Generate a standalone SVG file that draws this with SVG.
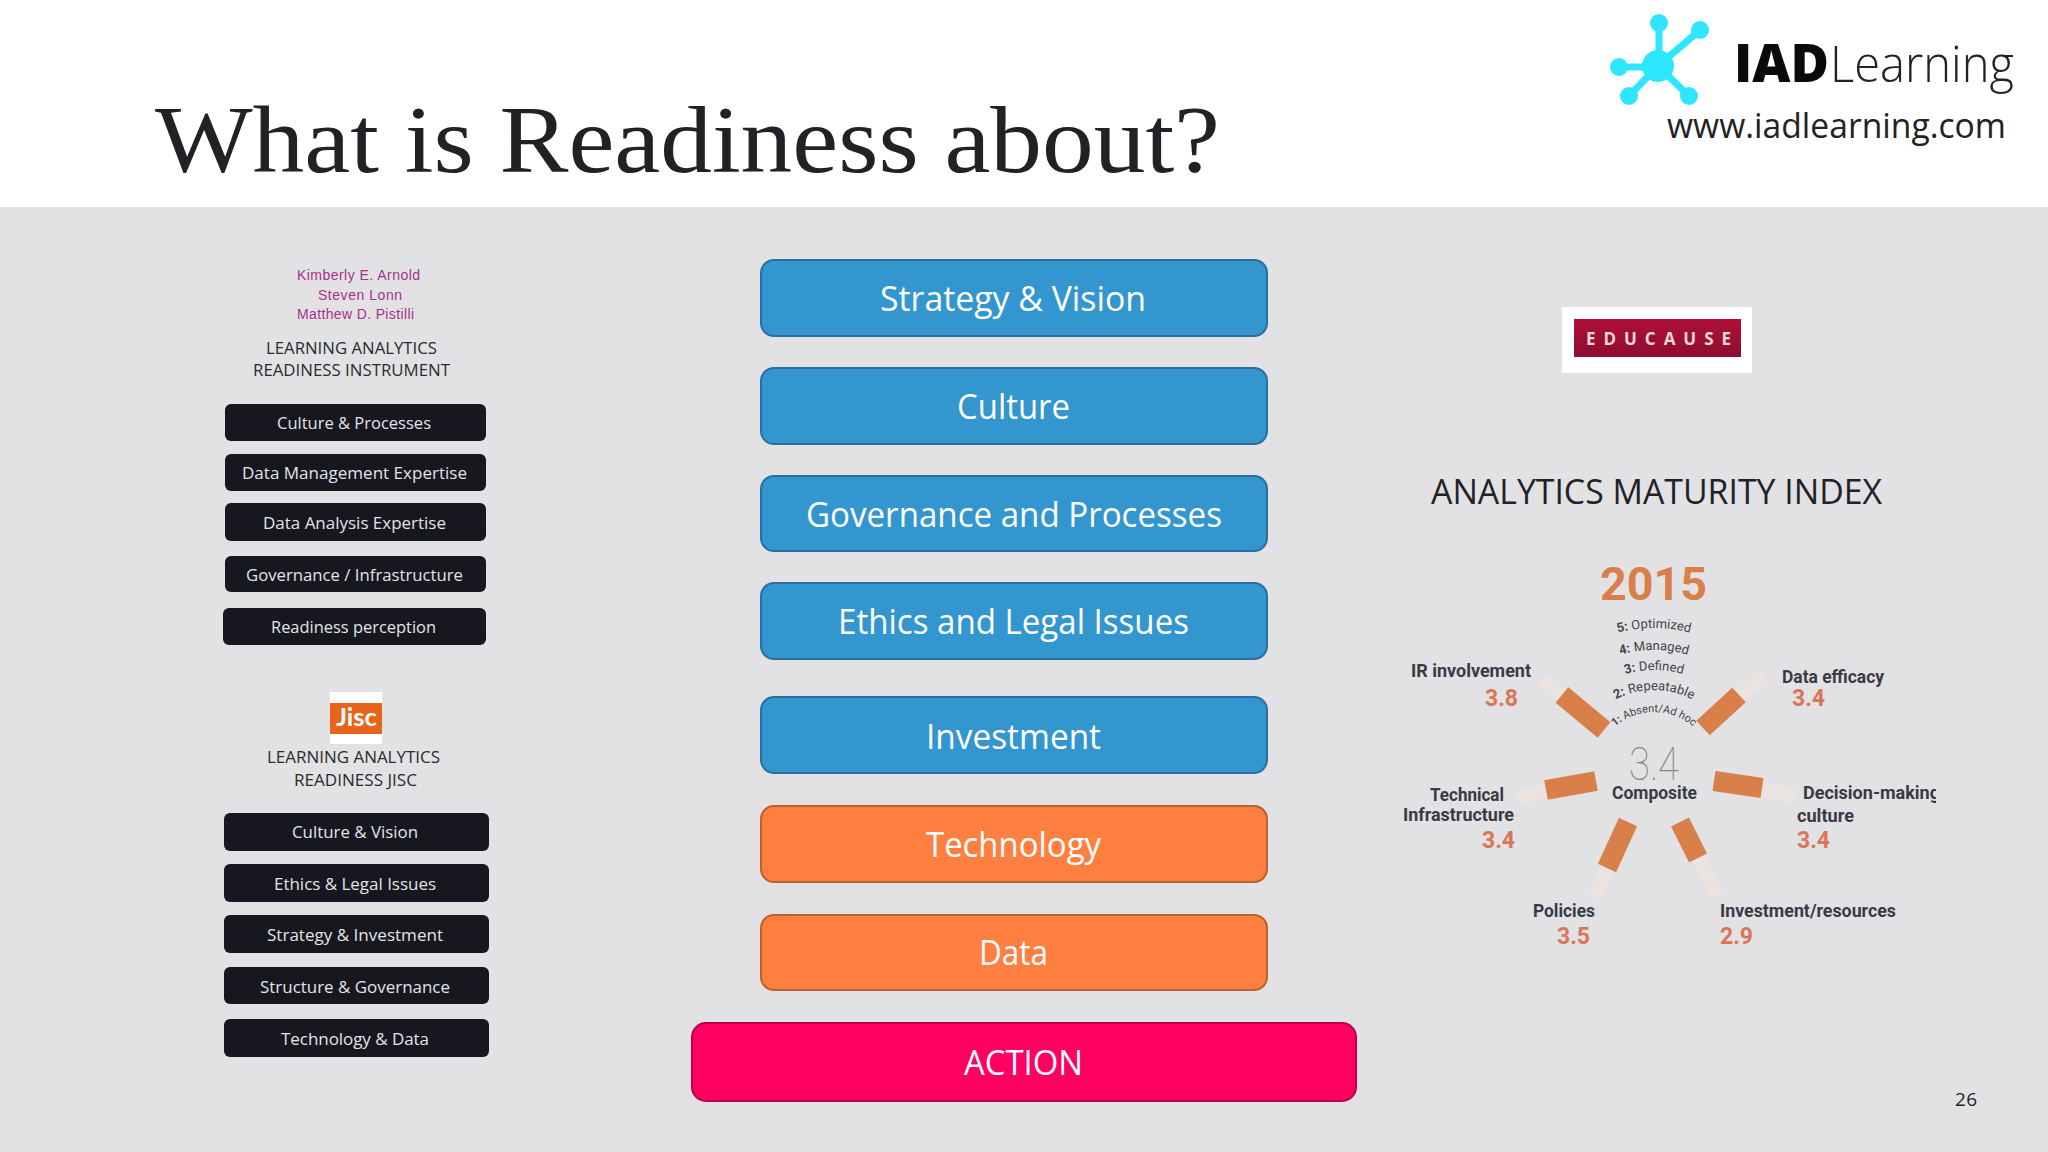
<svg xmlns="http://www.w3.org/2000/svg" width="2048" height="1152" viewBox="0 0 2048 1152">
<style>
.dk{fill:#16171f}
.dt{font:17px "Open Sans",sans-serif;fill:#e4e4e6}
.hd{font:17px "Open Sans",sans-serif;fill:#2b2b2f}
.au{font:14px "Liberation Sans",sans-serif;fill:#a8308a}
.bl{fill:#3396cf;stroke:#2a6f9e;stroke-width:2}
.or{fill:#ff7f41;stroke:#b8632f;stroke-width:2}
.pk{fill:#ff0062;stroke:#b8004a;stroke-width:2}
.mt{font:35px "Open Sans",sans-serif;fill:#fff}
.lb{font:bold 18px Roboto,sans-serif;fill:#3a3a44}
.nm{font:bold 23px Roboto,sans-serif;fill:#dc7458}
.lv{font:13px Roboto,sans-serif;fill:#44444c}
.lv1{font:11px Roboto,sans-serif;fill:#44444c}
.bar{stroke:#d9804a;stroke-width:20;fill:none}
.ext{stroke:#ebe3df;stroke-width:14;fill:none}
.lg{fill:#2ee6ff}
.lgl{stroke:#2ee6ff;stroke-width:7;fill:none}
</style>
<defs>
<linearGradient id="redg" x1="0" y1="0" x2="0" y2="1"><stop offset="0" stop-color="#b01038"/><stop offset="1" stop-color="#8c0d30"/></linearGradient>
<clipPath id="clipd"><rect x="1780" y="770" width="156" height="70"/></clipPath>
<path id="a5" d="M1510 772A144 144 0 0 1 1798 772"/>
<path id="a4" d="M1532 772A122 122 0 0 1 1776 772"/>
<path id="a3" d="M1552 772A102 102 0 0 1 1756 772"/>
<path id="a2" d="M1572 772A82 82 0 0 1 1736 772"/>
<path id="a1" d="M1594 772A60 60 0 0 1 1714 772"/>
</defs>
<rect width="2048" height="1152" fill="#e2e2e4"/>
<rect width="2048" height="207" fill="#fff"/>
<text id="title" x="155" y="172" font-family="Liberation Serif,serif" font-size="96" fill="#222226" textLength="1065" lengthAdjust="spacingAndGlyphs">What is Readiness about?</text>
<g id="logo">
<path class="lgl" d="M1659 23V66M1700 30L1658 66M1619 67H1658M1629 96L1658 66M1689 96L1658 66"/>
<circle class="lg" cx="1658" cy="66" r="16"/><circle class="lg" cx="1659" cy="23" r="9"/><circle class="lg" cx="1700" cy="30" r="9"/><circle class="lg" cx="1619" cy="67" r="9"/><circle class="lg" cx="1629" cy="96" r="9"/><circle class="lg" cx="1689" cy="96" r="9"/>
<text x="1734" y="82" font-family="Open Sans,sans-serif" font-weight="800" font-size="53" fill="#0a0a0a" textLength="95" lengthAdjust="spacingAndGlyphs">IAD</text>
<text x="1830" y="82" font-family="Open Sans,sans-serif" font-weight="300" font-size="50" fill="#222" textLength="184" lengthAdjust="spacingAndGlyphs">Learning</text>
<text x="1667" y="138" font-family="Open Sans,sans-serif" font-size="35" fill="#222" textLength="339" lengthAdjust="spacingAndGlyphs">www.iadlearning.com</text>
</g>
<g id="authors">
<text class="au" x="297" y="280" textLength="123" lengthAdjust="spacing">Kimberly E. Arnold</text>
<text class="au" x="318" y="300" textLength="84" lengthAdjust="spacing">Steven Lonn</text>
<text class="au" x="297" y="319" textLength="117" lengthAdjust="spacing">Matthew D. Pistilli</text>
</g>
<g id="instrument-heading">
<text class="hd" x="266" y="354" textLength="171" lengthAdjust="spacingAndGlyphs">LEARNING ANALYTICS</text>
<text class="hd" x="253" y="376" textLength="197" lengthAdjust="spacingAndGlyphs">READINESS INSTRUMENT</text>
</g>
<g id="i1"><rect class="dk" x="225" y="404" width="261" height="37" rx="6"/><text class="dt" x="277" y="429" textLength="154" lengthAdjust="spacingAndGlyphs">Culture &amp; Processes</text></g>
<g id="i2"><rect class="dk" x="225" y="454" width="261" height="37" rx="6"/><text class="dt" x="242" y="479" textLength="225" lengthAdjust="spacing">Data  Management  Expertise</text></g>
<g id="i3"><rect class="dk" x="225" y="503" width="261" height="38" rx="6"/><text class="dt" x="263" y="529" textLength="183" lengthAdjust="spacing">Data  Analysis  Expertise</text></g>
<g id="i4"><rect class="dk" x="225" y="556" width="261" height="36" rx="6"/><text class="dt" x="246" y="581" textLength="217" lengthAdjust="spacingAndGlyphs">Governance / Infrastructure</text></g>
<g id="i5"><rect class="dk" x="223" y="608" width="263" height="37" rx="6"/><text class="dt" x="271" y="633" textLength="165" lengthAdjust="spacingAndGlyphs">Readiness perception</text></g>
<g id="jisc-logo">
<rect x="330" y="692" width="52" height="52" fill="#fff"/><rect x="330" y="703" width="52" height="31" fill="#e8641b"/>
<text x="336" y="726" font-family="Lato,sans-serif" font-weight="700" font-size="25" fill="#fff" textLength="41" lengthAdjust="spacingAndGlyphs">Jisc</text>
</g>
<g id="jisc-heading">
<text class="hd" x="267" y="763" textLength="173" lengthAdjust="spacingAndGlyphs">LEARNING ANALYTICS</text>
<text class="hd" x="294" y="786" textLength="123" lengthAdjust="spacingAndGlyphs">READINESS JISC</text>
</g>
<g id="j1"><rect class="dk" x="224" y="813" width="265" height="38" rx="6"/><text class="dt" x="292" y="838" textLength="126" lengthAdjust="spacingAndGlyphs">Culture &amp; Vision</text></g>
<g id="j2"><rect class="dk" x="224" y="864" width="265" height="38" rx="6"/><text class="dt" x="274" y="890" textLength="162" lengthAdjust="spacingAndGlyphs">Ethics &amp; Legal Issues</text></g>
<g id="j3"><rect class="dk" x="224" y="915" width="265" height="38" rx="6"/><text class="dt" x="267" y="941" textLength="176" lengthAdjust="spacingAndGlyphs">Strategy &amp; Investment</text></g>
<g id="j4"><rect class="dk" x="224" y="967" width="265" height="37" rx="6"/><text class="dt" x="260" y="993" textLength="190" lengthAdjust="spacingAndGlyphs">Structure &amp; Governance</text></g>
<g id="j5"><rect class="dk" x="224" y="1019" width="265" height="38" rx="6"/><text class="dt" x="281" y="1045" textLength="148" lengthAdjust="spacing">Technology  &amp; Data</text></g>
<g id="m1"><rect class="bl" x="761" y="260" width="506" height="76" rx="13"/><text class="mt" x="880" y="311" textLength="266" lengthAdjust="spacingAndGlyphs">Strategy &amp; Vision</text></g>
<g id="m2"><rect class="bl" x="761" y="368" width="506" height="76" rx="13"/><text class="mt" x="957" y="419" textLength="113" lengthAdjust="spacingAndGlyphs">Culture</text></g>
<g id="m3"><rect class="bl" x="761" y="476" width="506" height="75" rx="13"/><text class="mt" x="806" y="527" textLength="416" lengthAdjust="spacingAndGlyphs">Governance and Processes</text></g>
<g id="m4"><rect class="bl" x="761" y="583" width="506" height="76" rx="13"/><text class="mt" x="838" y="634" textLength="351" lengthAdjust="spacingAndGlyphs">Ethics and Legal Issues</text></g>
<g id="m5"><rect class="bl" x="761" y="697" width="506" height="76" rx="13"/><text class="mt" x="926" y="749" textLength="175" lengthAdjust="spacingAndGlyphs">Investment</text></g>
<g id="m6"><rect class="or" x="761" y="806" width="506" height="76" rx="13"/><text class="mt" x="926" y="857" textLength="175" lengthAdjust="spacingAndGlyphs">Technology</text></g>
<g id="m7"><rect class="or" x="761" y="915" width="506" height="75" rx="13"/><text class="mt" x="979" y="965" textLength="69" lengthAdjust="spacingAndGlyphs">Data</text></g>
<g id="m8"><rect class="pk" x="692" y="1023" width="664" height="78" rx="14"/><text class="mt" x="964" y="1075" textLength="119" lengthAdjust="spacingAndGlyphs">ACTION</text></g>
<g id="educause">
<rect x="1562" y="307" width="190" height="66" fill="#fff"/><rect x="1574" y="319" width="167" height="38" fill="url(#redg)"/>
<text x="1586" y="345" font-family="Open Sans,sans-serif" font-weight="700" font-size="17" fill="#f0d8dc" textLength="145">EDUCAUSE</text>
</g>
<text id="ami-title" x="1431" y="504" font-family="Open Sans,sans-serif" font-size="34" fill="#222226" textLength="451" lengthAdjust="spacingAndGlyphs">ANALYTICS MATURITY INDEX</text>
<g id="maturity-index">
<text x="1600" y="600" font-family="Roboto,sans-serif" font-weight="700" font-size="46" fill="#d9804a" textLength="107" lengthAdjust="spacingAndGlyphs">2015</text>
<path class="ext" d="M1562 695L1541 680M1739 695L1764 677M1762 788L1795 797M1698 858L1718 895M1607 868L1595 897M1546 790L1518 798"/>
<path class="bar" d="M1604 730L1562 695M1703 728L1739 695M1714 781L1762 788M1680 822L1698 858M1628 822L1607 868M1596 781L1546 790"/>
<text class="lv"><textPath href="#a5" startOffset="50%" text-anchor="middle"><tspan font-weight="700">5:</tspan> Optimized</textPath></text>
<text class="lv"><textPath href="#a4" startOffset="50%" text-anchor="middle"><tspan font-weight="700">4:</tspan> Managed</textPath></text>
<text class="lv"><textPath href="#a3" startOffset="50%" text-anchor="middle"><tspan font-weight="700">3:</tspan> Defined</textPath></text>
<text class="lv"><textPath href="#a2" startOffset="50%" text-anchor="middle"><tspan font-weight="700">2:</tspan> Repeatable</textPath></text>
<text class="lv1"><textPath href="#a1" startOffset="50%" text-anchor="middle"><tspan font-weight="700">1:</tspan> Absent/Ad hoc</textPath></text>
<text x="1629" y="780" font-family="Roboto,sans-serif" font-weight="100" font-size="46" fill="#8f827a" textLength="50" lengthAdjust="spacingAndGlyphs">3.4</text>
<text class="lb" x="1612" y="799" textLength="85" lengthAdjust="spacingAndGlyphs">Composite</text>
<text class="lb" x="1411" y="677" textLength="120" lengthAdjust="spacingAndGlyphs">IR involvement</text><text class="nm" x="1485" y="706">3.8</text>
<text class="lb" x="1782" y="683" textLength="102" lengthAdjust="spacingAndGlyphs">Data efficacy</text><text class="nm" x="1792" y="706">3.4</text>
<text class="lb" x="1430" y="801" textLength="74" lengthAdjust="spacingAndGlyphs">Technical</text><text class="lb" x="1403" y="821" textLength="111" lengthAdjust="spacingAndGlyphs">Infrastructure</text><text class="nm" x="1482" y="848">3.4</text>
<g clip-path="url(#clipd)"><text class="lb" x="1803" y="799" textLength="137" lengthAdjust="spacingAndGlyphs">Decision-making</text></g><text class="lb" x="1797" y="822" textLength="57" lengthAdjust="spacingAndGlyphs">culture</text><text class="nm" x="1797" y="848">3.4</text>
<text class="lb" x="1533" y="917" textLength="62" lengthAdjust="spacingAndGlyphs">Policies</text><text class="nm" x="1557" y="944">3.5</text>
<text class="lb" x="1720" y="917" textLength="176" lengthAdjust="spacingAndGlyphs">Investment/resources</text><text class="nm" x="1720" y="944">2.9</text>
</g>
<text id="page" x="1955" y="1106" font-family="Open Sans,sans-serif" font-size="19" fill="#222" textLength="22">26</text>
</svg>
